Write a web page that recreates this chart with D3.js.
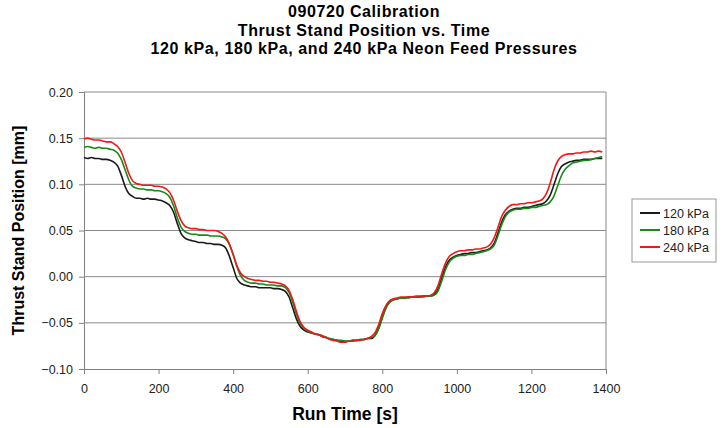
<!DOCTYPE html>
<html><head><meta charset="utf-8">
<script src="https://cdn.jsdelivr.net/npm/d3@7"></script>
<style>body{margin:0;background:#fff}svg{display:block}text{font-family:"Liberation Sans",Arial,sans-serif}</style>
</head><body><svg id="c" width="723" height="428"></svg>
<script>
const titleLines = ["090720 Calibration","Thrust Stand Position vs. Time","120 kPa, 180 kPa, and 240 kPa Neon Feed Pressures"];
const xLabel = "Run Time [s]";
const yLabel = "Thrust Stand Position [mm]";
const xTicks = [0,200,400,600,800,1000,1200,1400];
const yTicks = [-0.10,-0.05,0.00,0.05,0.10,0.15,0.20];
const seriesNames = ["120 kPa","180 kPa","240 kPa"];
const seriesColors = ["#1a1a1a","#178a17","#f01818"];
// time grid (s), every 10 s
const times = d3.range(0,1391,10);
const v120 = [0.129,0.128,0.129,0.128,0.128,0.127,0.127,0.126,0.124,0.120,0.110,0.098,0.090,0.087,0.085,0.085,0.084,0.085,0.084,0.084,0.083,0.082,0.080,0.077,0.070,0.058,0.047,0.042,0.040,0.039,0.038,0.037,0.037,0.036,0.036,0.035,0.035,0.034,0.031,0.022,0.010,-0.002,-0.007,-0.009,-0.010,-0.011,-0.011,-0.012,-0.012,-0.012,-0.012,-0.013,-0.013,-0.014,-0.016,-0.022,-0.034,-0.046,-0.054,-0.058,-0.060,-0.061,-0.062,-0.063,-0.065,-0.066,-0.068,-0.068,-0.069,-0.070,-0.070,-0.070,-0.069,-0.069,-0.068,-0.068,-0.067,-0.067,-0.064,-0.056,-0.044,-0.033,-0.027,-0.025,-0.024,-0.023,-0.023,-0.022,-0.022,-0.022,-0.022,-0.021,-0.021,-0.021,-0.019,-0.013,-0.001,0.011,0.018,0.021,0.023,0.024,0.025,0.025,0.026,0.026,0.027,0.028,0.029,0.031,0.036,0.047,0.059,0.067,0.071,0.073,0.074,0.074,0.075,0.075,0.076,0.077,0.078,0.079,0.082,0.088,0.099,0.111,0.119,0.122,0.124,0.125,0.126,0.126,0.127,0.127,0.127,0.128,0.128,0.128];
const v180 = [0.140,0.141,0.140,0.139,0.140,0.139,0.139,0.138,0.137,0.134,0.127,0.116,0.105,0.098,0.096,0.095,0.095,0.094,0.094,0.093,0.093,0.092,0.090,0.086,0.077,0.064,0.054,0.049,0.047,0.046,0.046,0.045,0.045,0.045,0.044,0.044,0.044,0.043,0.041,0.035,0.024,0.011,0.001,-0.004,-0.006,-0.007,-0.007,-0.008,-0.008,-0.009,-0.009,-0.009,-0.010,-0.010,-0.012,-0.017,-0.028,-0.041,-0.051,-0.056,-0.059,-0.061,-0.062,-0.063,-0.064,-0.066,-0.067,-0.068,-0.069,-0.069,-0.070,-0.070,-0.069,-0.069,-0.068,-0.068,-0.067,-0.066,-0.064,-0.057,-0.045,-0.034,-0.028,-0.025,-0.024,-0.023,-0.023,-0.023,-0.022,-0.022,-0.022,-0.022,-0.021,-0.021,-0.020,-0.015,-0.004,0.008,0.016,0.020,0.022,0.023,0.023,0.024,0.024,0.025,0.026,0.027,0.028,0.030,0.034,0.044,0.056,0.065,0.070,0.072,0.073,0.073,0.074,0.074,0.075,0.075,0.076,0.077,0.078,0.081,0.087,0.098,0.109,0.116,0.120,0.123,0.124,0.125,0.126,0.126,0.127,0.128,0.129,0.130];
const v240 = [0.149,0.150,0.149,0.148,0.148,0.147,0.146,0.146,0.144,0.141,0.135,0.124,0.112,0.104,0.101,0.100,0.099,0.099,0.099,0.098,0.098,0.097,0.095,0.091,0.083,0.071,0.061,0.055,0.053,0.052,0.052,0.051,0.051,0.050,0.050,0.050,0.049,0.047,0.043,0.035,0.024,0.012,0.004,0.000,-0.002,-0.003,-0.004,-0.004,-0.005,-0.005,-0.006,-0.006,-0.007,-0.008,-0.010,-0.015,-0.025,-0.038,-0.049,-0.055,-0.058,-0.060,-0.062,-0.063,-0.065,-0.066,-0.068,-0.069,-0.070,-0.071,-0.071,-0.070,-0.070,-0.069,-0.069,-0.068,-0.067,-0.065,-0.061,-0.052,-0.040,-0.031,-0.026,-0.024,-0.023,-0.022,-0.022,-0.022,-0.022,-0.021,-0.021,-0.021,-0.021,-0.020,-0.017,-0.009,0.004,0.015,0.022,0.025,0.027,0.028,0.028,0.029,0.029,0.030,0.030,0.031,0.032,0.035,0.042,0.053,0.065,0.072,0.076,0.078,0.078,0.079,0.079,0.080,0.080,0.081,0.082,0.084,0.090,0.101,0.115,0.125,0.130,0.132,0.133,0.133,0.134,0.134,0.135,0.135,0.136,0.135,0.136,0.135];
const seriesValues = [v120, v180, v240];

const svg = d3.select("#c");
const m = {left:84, right:606, top:92, bottom:369};
const x = d3.scaleLinear().domain([0,1400]).range([m.left,m.right]);
const y = d3.scaleLinear().domain([-0.10,0.20]).range([m.bottom,m.top]);

// title
svg.append("g").selectAll("text").data(titleLines).join("text")
  .attr("x",364).attr("y",(d,i)=>17+i*18.5).attr("text-anchor","middle")
  .attr("font-size",16).attr("font-weight","bold").attr("letter-spacing",0.6).text(d=>d);

// gridlines
svg.append("g").selectAll("line").data(yTicks.filter(d=>d>-0.1)).join("line")
  .attr("x1",m.left).attr("x2",m.right).attr("y1",d=>y(d)).attr("y2",d=>y(d))
  .attr("stroke","#8a8a8a").attr("stroke-width",1);
// right border
svg.append("line").attr("x1",m.right).attr("x2",m.right).attr("y1",m.top).attr("y2",m.bottom)
  .attr("stroke","#8a8a8a");

// axes
const xAxis = d3.axisBottom(x).tickValues(xTicks).tickFormat(d3.format("d")).tickSize(5).tickPadding(10);
const gx = svg.append("g").attr("transform",`translate(0,${m.bottom})`).call(xAxis);
const yAxis = d3.axisLeft(y).tickValues(yTicks).tickFormat(d3.format(".2f")).tickSize(5).tickPadding(6);
const gy = svg.append("g").attr("transform",`translate(${m.left},0)`).call(yAxis);
[gx,gy].forEach(g=>{
  g.select(".domain").attr("stroke","#808080");
  g.selectAll(".tick line").attr("stroke","#808080");
  g.selectAll(".tick text").attr("font-size",12.5).attr("fill","#222").attr("font-family","'Liberation Sans',Arial,sans-serif");
});

// axis titles
svg.append("text").attr("x",(m.left+m.right)/2).attr("y",420).attr("text-anchor","middle")
  .attr("font-size",17.5).attr("font-weight","bold").text(xLabel);
svg.append("text").attr("transform",`translate(24,${(m.top+m.bottom)/2}) rotate(-90)`).attr("text-anchor","middle")
  .attr("font-size",16).attr("font-weight","bold").text(yLabel);

// lines
const line = d3.line().x((d,i)=>x(times[i])).y(d=>y(d)).curve(d3.curveMonotoneX);
svg.append("g").selectAll("path").data(seriesValues).join("path")
  .attr("d",line).attr("fill","none")
  .attr("stroke",(d,i)=>seriesColors[i]).attr("stroke-width",1.6);

// legend
const lg = svg.append("g").attr("transform","translate(632,199)");
lg.append("rect").attr("width",84).attr("height",63).attr("fill","#fff").attr("stroke","#999");
const it = lg.selectAll("g").data(seriesNames).join("g").attr("transform",(d,i)=>`translate(0,${14+i*17})`);
it.append("line").attr("x1",8).attr("x2",28).attr("stroke",(d,i)=>seriesColors[i]).attr("stroke-width",2);
it.append("text").attr("x",31).attr("y",4.5).attr("font-size",12.5).attr("fill","#222").text(d=>d);
</script></body></html>
